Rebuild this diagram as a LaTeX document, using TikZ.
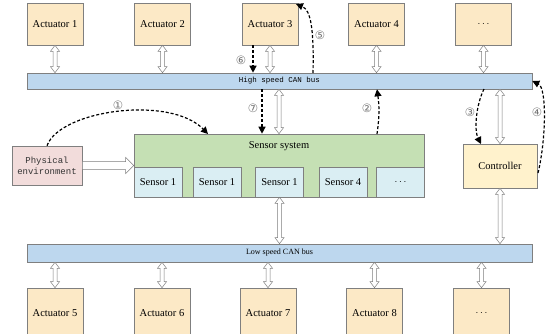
\documentclass[tikz,border=0pt]{standalone}
\usepackage{fontspec}
\setmainfont{Liberation Serif}
\newfontfamily\monofont{Liberation Mono}
\newfontfamily\symfont{DejaVu Sans}
\usetikzlibrary{arrows.meta,calc}
\definecolor{actc}{HTML}{FCE9C6}
\definecolor{busc}{HTML}{BDD7EE}
\definecolor{grnc}{HTML}{C5E0B4}
\definecolor{senc}{HTML}{DAEEF3}
\definecolor{phyc}{HTML}{F2DCDB}
\definecolor{ctlc}{HTML}{FFF2CC}
\definecolor{bordc}{HTML}{7F7F7F}
\newcommand{\dotsym}{{\fontsize{10}{10}\selectfont$\cdots$}}
\begin{document}
\begin{tikzpicture}[x=1pt,y=1pt,
  box/.style={draw=bordc, line width=0.6pt, inner sep=0pt, font=\fontsize{10.5}{12}\selectfont},
  act/.style={box, fill=actc, minimum width=56pt, minimum height=42pt},
  actb/.style={box, fill=actc, minimum width=56pt, minimum height=50pt},
  bus/.style={box, fill=busc, minimum width=505pt},
  sen/.style={box, fill=senc, minimum width=48pt, minimum height=30pt},
  num/.style={font=\symfont\fontsize{11.5}{12}\selectfont, text=black!55, inner sep=0pt},
  dsh/.style={draw=black, line width=1.2pt, dash pattern=on 3pt off 2pt, -{Triangle[width=7pt,length=7pt]}},
  dbl/.style={draw=bordc, fill=white, line width=0.5pt, to path={let \p1=(\tikztostart), \p2=(\tikztotarget) in
    (\x1,\y1) -- (\x1+4.5pt,\y1-6pt) -- (\x1+2pt,\y1-6pt) -- (\x1+2pt,\y2+6pt) -- (\x1+4.5pt,\y2+6pt) -- (\x1,\y2)
    -- (\x1-4.5pt,\y2+6pt) -- (\x1-2pt,\y2+6pt) -- (\x1-2pt,\y1-6pt) -- (\x1-4.5pt,\y1-6pt) -- cycle}},
  sarr/.style={draw=bordc, fill=white, line width=0.5pt, to path={let \p1=(\tikztostart), \p2=(\tikztotarget) in
    (\x1,\y1+4pt) -- (\x2-8pt,\y1+4pt) -- (\x2-8pt,\y1+8pt) -- (\x2,\y1) -- (\x2-8pt,\y1-8pt) -- (\x2-8pt,\y1-4pt) -- (\x1,\y1-4pt) -- cycle}}
]
\useasboundingbox (0,0) rectangle (548,-333);
\clip (0,0) rectangle (548,-333);
\fill[white] (0,0) rectangle (548,-333);

% top actuators
\node[act] (a1) at (55,-24) {Actuator 1};
\node[act] (a2) at (162.5,-24) {Actuator 2};
\node[act] (a3) at (270,-24) {Actuator 3};
\node[act] (a4) at (376.5,-24) {Actuator 4};
\node[act] (a5) at (483.5,-24) {\dotsym};

% high speed bus
\node[bus, minimum height=16pt] (hbus) at (279.5,-81) {};
\node[font=\monofont\fontsize{7.5}{8}\selectfont, inner sep=0pt] (htxt) at (279.5,-81) {High speed CAN bus};

% sensor system
\node[box, fill=grnc, minimum width=290pt, minimum height=63pt] (sensys) at (279,-165.5) {};
\node[font=\fontsize{10.5}{12}\selectfont, inner sep=0pt] (sstxt) at (279,-146) {Sensor system};
\node[sen] (s1) at (158,-182) {Sensor 1};
\node[sen] (s2) at (217,-182) {Sensor 1};
\node[sen] (s3) at (279.5,-182) {Sensor 1};
\node[sen] (s4) at (343,-182) {Sensor 4};
\node[sen] (s5) at (400.5,-182) {\dotsym};

% physical environment
\node[box, fill=phyc, minimum width=70pt, minimum height=39pt, align=center,
      font=\monofont\fontsize{9}{11}\selectfont, text=black!80] (phys) at (47,-165.5) {Physical\\environment};

% controller
\node[box, fill=ctlc, minimum width=74pt, minimum height=44pt] (ctrl) at (500,-166) {Controller};

% low speed bus
\node[bus, minimum height=18pt, font=\fontsize{8}{9}\selectfont] (lbus) at (279.5,-253) {Low speed CAN bus};

% bottom actuators
\node[actb] (b1) at (55,-313) {Actuator 5};
\node[actb] (b2) at (162,-313) {Actuator 6};
\node[actb] (b3) at (268,-313) {Actuator 7};
\node[actb] (b4) at (374.5,-313) {Actuator 8};
\node[actb] (b5) at (481.5,-313) {\dotsym};

% double arrows
\draw[dbl] (a1.south) to (a1.south |- hbus.north);
\draw[dbl] (a2.south) to (a2.south |- hbus.north);
\draw[dbl] (a3.south) to (a3.south |- hbus.north);
\draw[dbl] (a4.south) to (a4.south |- hbus.north);
\draw[dbl] (a5.south) to (a5.south |- hbus.north);
\draw[dbl] (sensys.north |- hbus.south) to (sensys.north);
\draw[dbl] (ctrl.north |- hbus.south) to (ctrl.north);
\draw[dbl] (s3.south) to (s3.south |- lbus.north);
\draw[dbl] (ctrl.south) to (ctrl.south |- lbus.north);
\draw[dbl] (b1.north |- lbus.south) to (b1.north);
\draw[dbl] (b2.north |- lbus.south) to (b2.north);
\draw[dbl] (b3.north |- lbus.south) to (b3.north);
\draw[dbl] (b4.north |- lbus.south) to (b4.north);
\draw[dbl] (b5.north |- lbus.south) to (b5.north);

% hollow arrow from physical environment
\draw[sarr] (phys.east) to (phys.east -| sensys.west);

% dashed arrows
\coordinate (c1) at (208,-134);
\draw[dsh] (phys.north) .. controls (60,-110) and (170,-95) .. (c1);
\node[num] (n1) at (118,-105) {①};

\coordinate (c2) at (377,-134);
\draw[dsh] (c2) to[bend right=8] (c2 |- hbus.south);
\node[num] (n2) at (367,-108) {②};

\coordinate (c3s) at (484,-89);
\coordinate (c3e) at (481,-144);
\draw[dsh] (c3s) .. controls (476,-105) and (474,-130) .. (c3e);
\node[num] (n3) at (470,-112) {③};

\coordinate (c4) at (538,-173);
\draw[dsh] (c4) .. controls (546,-140) and (547,-88) .. (hbus.east);
\node[num] (n4) at (537,-112) {④};

\coordinate (c5) at (313,-73);
\coordinate (c5e) at (296,-4);
\draw[dsh] (c5) .. controls (314,-30) and (311,-10) .. (c5e);
\node[num] (n5) at (320,-35) {⑤};

\coordinate (c6) at (253,-45);
\draw[dsh] (c6) -- (c6 |- hbus.north);
\node[num] (n6) at (241,-60) {⑥};

\coordinate (c7) at (262,-89);
\draw[dsh] (c7) -- (c7 |- sensys.north);
\node[num] (n7) at (253,-108) {⑦};
\end{tikzpicture}
\end{document}
